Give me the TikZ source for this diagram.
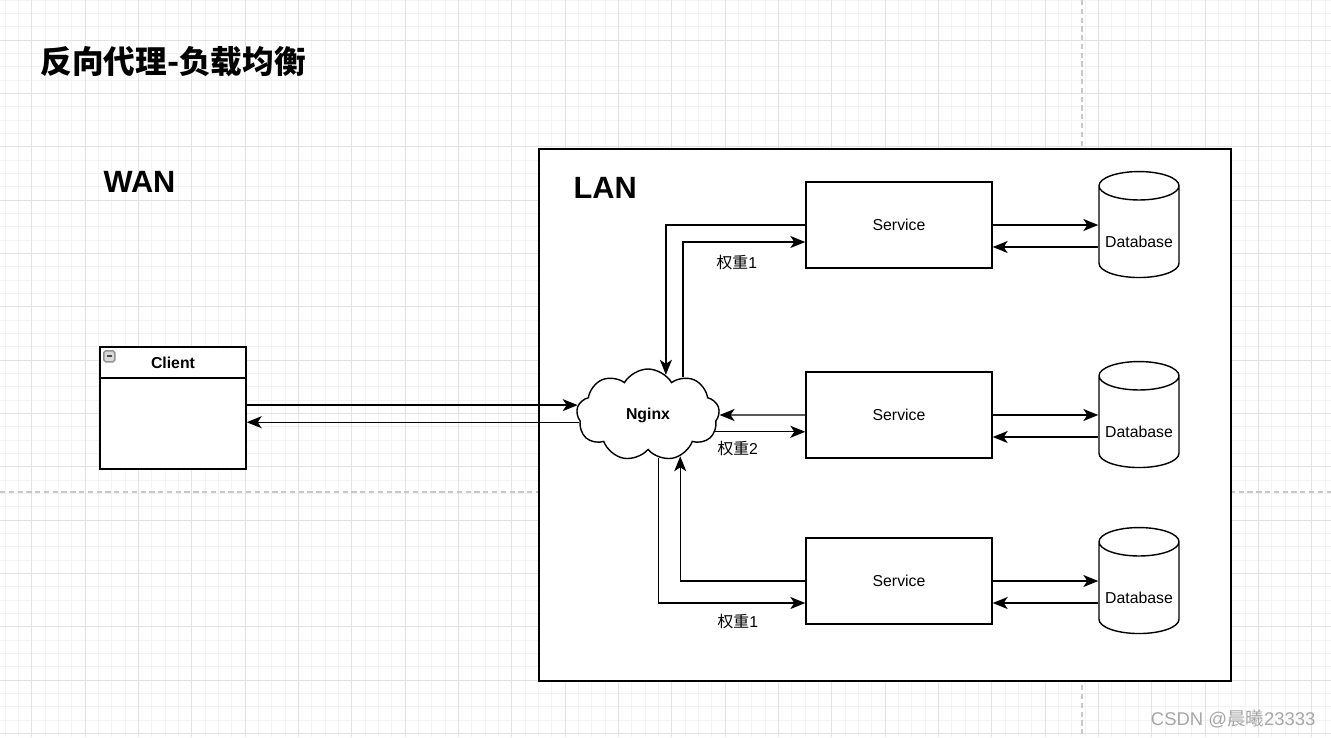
\documentclass[tikz,border=0pt]{standalone}
\usepackage{fontspec}
\setmainfont{Liberation Sans}
\newfontfamily\cjk{Noto Sans CJK SC}
\usetikzlibrary{arrows.meta,shapes.geometric,shapes.symbols,calc,positioning}
\definecolor{gridminor}{HTML}{F3F3F3}
\definecolor{gridmajor}{HTML}{E2E2E2}
\definecolor{pagebreak}{HTML}{C8C8C8}
\definecolor{wmark}{HTML}{A6A6A6}
\tikzset{
  smallfont/.style={font=\fontsize{9}{11}\selectfont},
  svcbox/.style={draw, fill=white, smallfont, minimum width=3.72cm, minimum height=1.72cm},
  dbcyl/.style={draw, fill=white, smallfont, cylinder, shape border rotate=90, aspect=0.42,
    minimum width=1.6cm, minimum height=2.12cm, inner sep=0pt, text height=0.6cm, text depth=0pt},
  wlabel/.style={smallfont, inner sep=1pt},
  zonelabel/.style={font=\fontsize{17.5}{20}\selectfont\bfseries, anchor=west, inner sep=0pt},
  link/.style={->},
}
\begin{document}
\begin{tikzpicture}[x=0.02cm,y=-0.02cm,>={Stealth[length=3mm,width=2.4mm,inset=0.8mm]},line width=0.8pt]
\useasboundingbox (0,0) rectangle (1331,737);
% grid
\foreach \k in {0,...,99} \draw[gridminor,line width=0.4pt] (5+13.333*\k,0) -- ++(0,737);
\foreach \k in {0,...,55} \draw[gridminor,line width=0.4pt] (0,13.333*\k) -- ++(1331,0);
\foreach \k in {0,...,24} \draw[gridmajor,line width=0.5pt] (31.67+53.333*\k,0) -- ++(0,737);
\foreach \k in {0,...,13} \draw[gridmajor,line width=0.5pt] (0,40+53.333*\k) -- ++(1331,0);
\draw[pagebreak,line width=0.8pt,dash pattern=on 3pt off 2pt] (1082,0) -- (1082,737);
\draw[pagebreak,line width=0.8pt,dash pattern=on 3pt off 2pt] (0,492) -- (1331,492);

% titles
\node[anchor=west,inner sep=0pt,font=\cjk\fontsize{18}{20}\selectfont\bfseries] (title) at (40,62) {反向代理-负载均衡};
\node[zonelabel] (wan) at (103,182) {WAN};
\node[draw,fill=white,minimum width=13.84cm,minimum height=10.64cm] (lan) at (885,415) {};
\node[zonelabel] (lanlbl) at (573,188) {LAN};

% client
\node[draw,fill=white,minimum width=2.92cm,minimum height=2.44cm] (cl) at (173,408) {};
\node[draw,below=0pt of cl.north,minimum width=2.92cm,minimum height=0.62cm,inner sep=0pt,smallfont] (clh) {\textbf{Client}};
\node[draw=gray!85,fill=gray!30,rounded corners=1pt,minimum size=0.22cm,inner sep=0pt] (mb) at ($(cl.north west)+(10,10)$) {\textcolor{black!70}{\rule[0.4pt]{0.11cm}{0.8pt}}};

% nginx
\node[draw,fill=white,cloud,cloud puffs=9,cloud puff arc=120,aspect=1.6,minimum width=2.86cm,minimum height=1.84cm,inner sep=0pt,smallfont] (ng) at (648,415) {\textbf{Nginx}};

% services and databases
\node[svcbox] (s1) at (899,225) {Service};
\node[svcbox] (s2) at (899,415) {Service};
\node[svcbox] (s3) at (899,581) {Service};
\node[dbcyl] (d1) at (1139,232) {Database};
\node[dbcyl] (d2) at (1139,422) {Database};
\node[dbcyl] (d3) at (1139,588) {Database};

% client <-> nginx
\draw[link] (cl.east |- ng.172) -- (ng.172);
\draw[link] (ng.186) -- (ng.186 -| cl.east);

% nginx <-> services
\draw[link] (s1.west) -| (ng.66);
\draw[link] (ng.47) |- ($(s1.west)+(0,17)$) node[wlabel,pos=0.72,below=6pt] {{\cjk 权重}1};
\draw[link] (s2.west) -- (ng);
\draw[link] (ng.-14) -- (ng.-14 -| s2.west) node[wlabel,pos=0.25,below=4pt] {{\cjk 权重}2};
\draw[link] (s3.west) -| (ng.-52);
\draw[link] (ng.-76) |- ($(s3.west)+(0,22)$) node[wlabel,pos=0.77,below=5pt] {{\cjk 权重}1};

% services <-> databases
\foreach \s/\d in {s1/d1,s2/d2,s3/d3}{
  \coordinate (\s back) at ($(\s.east)+(0,22)$);
  \draw[link] (\s.east) -- (\s.east -| \d.180);
  \draw[link] (\s back -| \d.180) -- (\s back);
}

% watermark
\node[anchor=east,inner sep=0pt,text=wmark,font=\fontsize{10.5}{12}\selectfont] (wm) at (1316,719) {CSDN @{\cjk 晨曦}23333};
\end{tikzpicture}
\end{document}
